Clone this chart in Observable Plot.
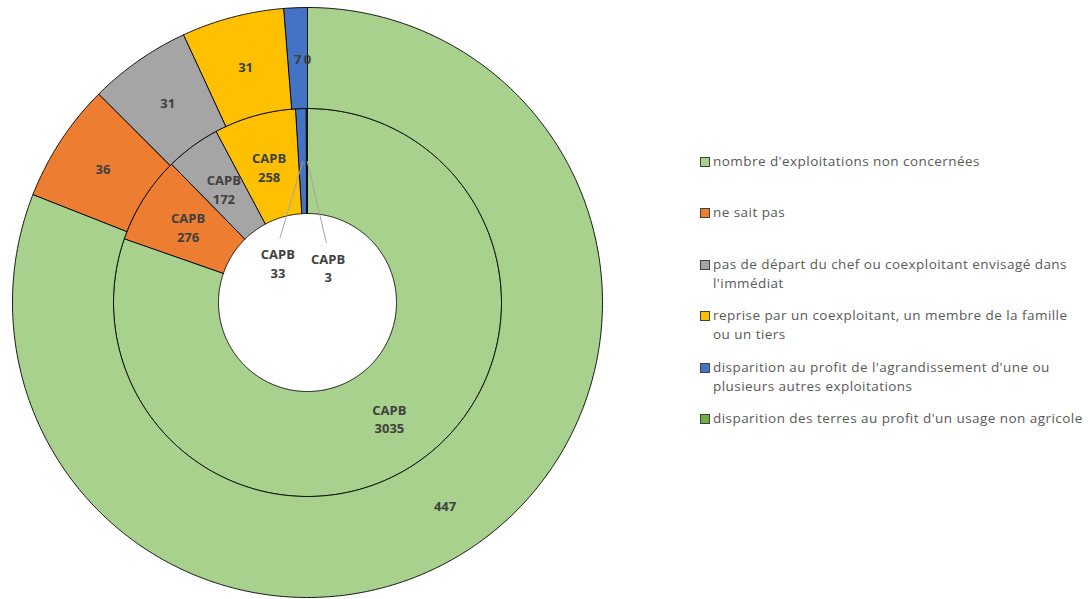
<!DOCTYPE html>
<html>
<head>
<meta charset="utf-8">
<script src="https://cdn.jsdelivr.net/npm/d3@7"></script>
<script src="https://cdn.jsdelivr.net/npm/@observablehq/plot@0.6"></script>
<style>
  html, body { margin: 0; padding: 0; background: #fff; }
  #wrap { position: relative; width: 1089px; height: 599px; overflow: hidden; font-family: "Open Sans", sans-serif; }
  #chart { position: absolute; left: 0; top: 0; }
  #legend { position: absolute; left: 700px; top: 152px; width: 389px; }
  .item { display: flex; align-items: flex-start; height: 51.4px; font-size: 13.5px; letter-spacing: 0.45px; line-height: 19px; color: #595959; }
  .sw { flex: none; width: 8px; height: 8px; border: 1px solid #404040; margin-top: 5px; margin-right: 3px; }
  .lab { width: 374px; }
</style>
</head>
<body>
<div id="wrap">
  <div id="chart"></div>
  <div id="legend"></div>
</div>
<script>
// ---- data ----
const categories = [
  "nombre d'exploitations non concernées",
  "ne sait pas",
  "pas de départ du chef ou coexploitant envisagé dans l'immédiat",
  "reprise par un coexploitant, un membre de la famille ou un tiers",
  "disparition au profit de l'agrandissement d'une ou plusieurs autres exploitations",
  "disparition des terres au profit d'un usage non agricole"
];
const colors = ["#A9D18E", "#ED7D31", "#A5A5A5", "#FFC000", "#4472C4", "#70AD47"];
const outerValues = [447, 36, 31, 31, 7, 0];
const innerValues = [3035, 276, 172, 258, 33, 3];
const innerSeriesName = "CAPB";

// ---- layout (sizes / styles) ----
const W = 1089, H = 599;
const CX = 307, CY = 302;           // pie centre in px
const R_HOLE = 89, R_MID = 194, R_OUT = 295;
// callout labels for thin inner slices: offset (px) from the slice anchor
const callouts = new Map([[4, {dx: -25, dy: 101}], [5, {dx: 21, dy: 106}]]);

function ring(values, r0, r1, name) {
  const total = d3.sum(values);
  let acc = 0;
  return values.map((v, i) => {
    const a0 = acc / total * 2 * Math.PI;
    acc += v;
    const a1 = acc / total * 2 * Math.PI;
    return {ring: name, i, v, cat: categories[i], a0, a1, r0, r1, mid: (a0 + a1) / 2, rm: (r0 + r1) / 2};
  });
}
const inner = ring(innerValues, R_HOLE, R_MID, "inner");
const outer = ring(outerValues, R_MID, R_OUT, "outer");

const px = (r, a) => r * Math.sin(a);
const py = (r, a) => r * Math.cos(a);

function polygon(s) {
  const pts = [];
  if (s.a1 - s.a0 <= 0) return pts;
  const n = Math.max(2, Math.ceil((s.a1 - s.a0) / (Math.PI / 360)) + 1);
  const key = s.ring + s.i;
  for (let k = 0; k < n; k++) {
    const a = s.a0 + (s.a1 - s.a0) * k / (n - 1);
    pts.push({key, cat: s.cat, x: px(s.r1, a), y: py(s.r1, a)});
  }
  for (let k = n - 1; k >= 0; k--) {
    const a = s.a0 + (s.a1 - s.a0) * k / (n - 1);
    pts.push({key, cat: s.cat, x: px(s.r0, a), y: py(s.r0, a)});
  }
  return pts;
}
const polys = [...inner, ...outer].flatMap(polygon);

const innerLabeled = inner.filter(s => !callouts.has(s.i));
const innerCallout = inner.filter(s => callouts.has(s.i)).map(s => {
  const c = callouts.get(s.i);
  const ax = px(s.rm, s.mid), ay = py(s.rm, s.mid);
  return {...s, ax, ay, lx: ax + c.dx, ly: ay - c.dy, tx: ax + c.dx * 0.92, ty: ay - c.dy + 24};
});

const labelFont = {fontFamily: "Open Sans, sans-serif", fontSize: 13, fontWeight: "bold", fill: "#404040", lineHeight: 1.45};

const chart = Plot.plot({
  width: W, height: H,
  margin: 0,
  x: {domain: [-CX, W - CX], axis: null},
  y: {domain: [-(H - CY), CY], axis: null},
  color: {domain: categories, range: colors},
  style: {background: "transparent"},
  marks: [
    Plot.line(polys, {x: "x", y: "y", z: "key", fill: "cat", stroke: "#000", strokeWidth: 0.9, curve: "linear-closed"}),
    Plot.link(innerCallout, {x1: "ax", y1: "ay", x2: "tx", y2: "ty", stroke: "#A6A6A6", strokeWidth: 1}),
    Plot.text(outer, {x: d => px(d.rm, d.mid), y: d => py(d.rm, d.mid), text: d => String(d.v), ...labelFont}),
    Plot.text(innerLabeled, {x: d => px(d.rm, d.mid), y: d => py(d.rm, d.mid), text: d => innerSeriesName + "\n" + d.v, ...labelFont}),
    Plot.text(innerCallout, {x: "lx", y: "ly", text: d => innerSeriesName + "\n" + d.v, ...labelFont})
  ]
});
document.getElementById("chart").appendChild(chart);

// legend
const legend = d3.select("#legend");
categories.forEach((c, i) => {
  const it = legend.append("div").attr("class", "item");
  it.append("div").attr("class", "sw").style("background", colors[i]);
  it.append("div").attr("class", "lab").text(c);
});
</script>
</body>
</html>
